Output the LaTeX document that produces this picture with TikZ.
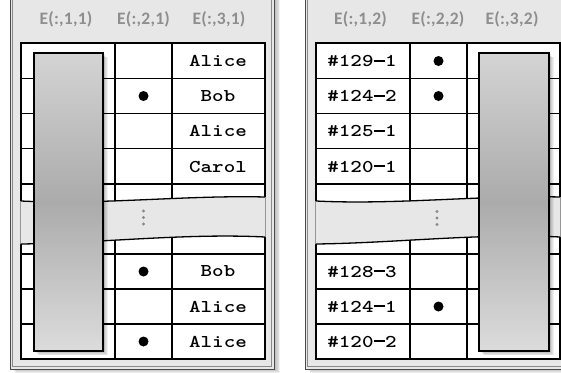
\documentclass[tikz,border=0pt]{standalone}
\usepackage{fontspec}
\newfontfamily\headfont[LetterSpace=1.5]{Carlito}
\definecolor{panelbg}{HTML}{E7E7E7}
\definecolor{headgray}{HTML}{8E8E8E}
\definecolor{rimdark}{HTML}{4A4A4A}
\definecolor{rimlight}{HTML}{8A8A8A}
\definecolor{bartop}{HTML}{D4D4D4}
\definecolor{barmid}{HTML}{ABABAB}
\definecolor{barbot}{HTML}{DCDCDC}
\definecolor{gapdots}{HTML}{8A8A8A}

\tikzset{
  headtext/.style={font=\headfont\bfseries\fontsize{17.5}{21}\selectfont, text=headgray, inner sep=0pt},
  celltext/.style={font=\ttfamily\bfseries\fontsize{18}{21}\selectfont, inner sep=0pt},
  gridline/.style={line width=1.3pt, black},
  marker/.style={circle, fill=black, minimum size=10pt, inner sep=0pt},
  gapdot/.style={circle, fill=gapdots, minimum size=3.4pt, inner sep=0pt},
  tallbar/.style={draw=black, line width=1.4pt, top color=bartop, bottom color=barbot, middle color=barmid},
}

% wide typewriter lettering for the table cells
\newcommand{\widett}[1]{\scalebox{1.22}[1]{#1}}
% full-cell dash used in the record ids
\newcommand{\iddash}{\rule[0.27em]{0.525em}{0.1em}}

% panel frame, table grid and the torn gap; table starts at x=21 (scope coords)
\newcommand{\panelframe}{%
  % soft shadow of the panel
  \foreach \d in {1,...,7}
    \fill[black, opacity=0.045] (10+\d*0.9,-4+\d*0.6) rectangle (274+\d*0.9,369+\d*0.6);
  \fill[panelbg] (10,-4) rectangle (274,369);
  \draw[rimdark, line width=0.9pt] (10,-4) rectangle (274,369);
  \draw[rimlight, line width=0.7pt] (12.3,-4) rectangle (271.7,366.7);
  % table body
  \fill[white] (21,43) rectangle (265,359);
  \foreach \y in {78.25,113.5,148.75,184,254,289,324}
    \draw[gridline] (21,\y) -- (265,\y);
  \foreach \x in {115,172}
    \draw[gridline] (\x,43) -- (\x,359);
  \draw[gridline] (21,43) rectangle (265,359);
  % torn gap across the table
  \fill[panelbg] (20.3,201) -- (21,201) .. controls (101,205) and (186,195) .. (265,197)
     -- (265.7,197) -- (265.7,237) -- (265,237)
     .. controls (186,233) and (101,243) .. (21,244) -- (20.3,244) -- cycle;
  \draw[gridline] (21,201) .. controls (101,205) and (186,195) .. (265,197);
  \draw[gridline] (21,244) .. controls (101,243) and (186,233) .. (265,237);
}

% shaded bar with its shadow
\newcommand{\shadedbar}[2]{%
  \foreach \d in {1,...,6}
    \fill[black, opacity=0.06] (#1+\d*0.8,53+\d*0.7) rectangle (#2+\d*0.8,351+\d*0.7);
  \path[tallbar] (#1,53) rectangle (#2,351);
}

\begin{document}
\begin{tikzpicture}[x=1pt, y=-1pt]
\useasboundingbox (0,0) rectangle (561,372);
\clip (0,0) rectangle (561,372);

% ---------------- left panel ----------------
\begin{scope}[name prefix=L-]
  \panelframe
  \node[headtext] (h1) at (66,19) {E(:,1,1)};
  \node[headtext] (h2) at (143.5,19) {E(:,2,1)};
  \node[headtext] (h3) at (219,19) {E(:,3,1)};
  \node[celltext] (r1) at (218,61) {\widett{Alice}};
  \node[celltext] (r2) at (218,96) {\widett{Bob}};
  \node[celltext] (r3) at (218,131) {\widett{Alice}};
  \node[celltext] (r4) at (218,166.5) {\widett{Carol}};
  \node[celltext] (r5) at (218,271.5) {\widett{Bob}};
  \node[celltext] (r6) at (218,306.5) {\widett{Alice}};
  \node[celltext] (r7) at (218,341.5) {\widett{Alice}};
  \node[marker] (m1) at (143.5,96) {};
  \node[marker] (m2) at (143.5,271.5) {};
  \node[marker] (m3) at (143.5,341.5) {};
  \node[gapdot] (g1) at (143.5,211) {};
  \node[gapdot] (g2) at (143.5,217.5) {};
  \node[gapdot] (g3) at (143.5,224) {};
  \shadedbar{34}{103}
\end{scope}

% ---------------- right panel ----------------
\begin{scope}[xshift=295pt, name prefix=R-]
  \panelframe
  \node[headtext] (h1) at (65.5,19) {E(:,1,2)};
  \node[headtext] (h2) at (143,19) {E(:,2,2)};
  \node[headtext] (h3) at (217,19) {E(:,3,2)};
  \node[celltext] (r1) at (67,61) {\widett{\#129\iddash1}};
  \node[celltext] (r2) at (67,96) {\widett{\#124\iddash2}};
  \node[celltext] (r3) at (67,131) {\widett{\#125\iddash1}};
  \node[celltext] (r4) at (67,166.5) {\widett{\#120\iddash1}};
  \node[celltext] (r5) at (67,271.5) {\widett{\#128\iddash3}};
  \node[celltext] (r6) at (67,306.5) {\widett{\#124\iddash1}};
  \node[celltext] (r7) at (67,341.5) {\widett{\#120\iddash2}};
  \node[marker] (m1) at (143.5,61) {};
  \node[marker] (m2) at (143.5,96) {};
  \node[marker] (m3) at (143.5,306.5) {};
  \node[gapdot] (g1) at (142,211.5) {};
  \node[gapdot] (g2) at (142,218) {};
  \node[gapdot] (g3) at (142,224.5) {};
  \shadedbar{184}{254}
\end{scope}
\end{tikzpicture}
\end{document}
